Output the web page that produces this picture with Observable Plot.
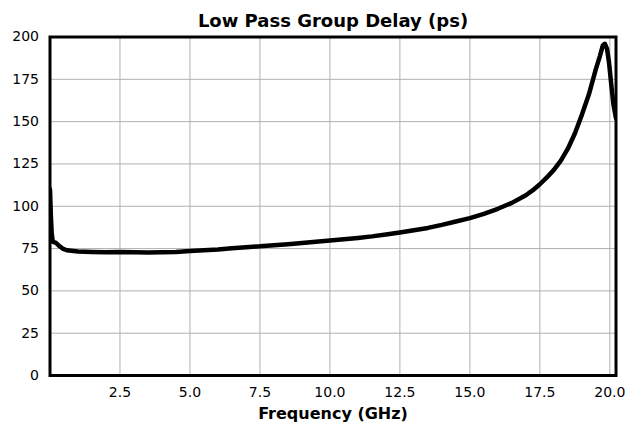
<!DOCTYPE html>
<html>
<head>
<meta charset="utf-8">
<script src="https://cdn.jsdelivr.net/npm/d3@7"></script>
<script src="https://cdn.jsdelivr.net/npm/@observablehq/plot@0.6"></script>
<style>
  html, body { margin: 0; padding: 0; background: #fff; }
  #chart svg { display: block; font-family: "DejaVu Sans", sans-serif; }
</style>
</head>
<body>
<div id="chart"></div>
<script>
const title = "Low Pass Group Delay (ps)";
const xLabel = "Frequency (GHz)";
const freqGHz = [0, 0.03, 0.06, 0.1, 0.2, 0.3, 0.45, 0.6, 1.0, 1.5, 2.0, 2.5, 3.0, 3.5, 4.0, 4.5, 5.0, 5.5, 6.0, 6.5, 7.0, 7.5, 8.0, 8.5, 9.0, 9.5, 10.0, 10.5, 11.0, 11.5, 12.0, 12.5, 13.0, 13.5, 14.0, 14.5, 15.0, 15.5, 16.0, 16.5, 17.0, 17.25, 17.5, 17.75, 18.0, 18.25, 18.5, 18.75, 19.0, 19.25, 19.5, 19.65, 19.75, 19.82, 19.9, 19.97, 20.05, 20.13, 20.22];
const delayPs = [110, 95, 84, 79, 78.5, 77, 75, 74, 73.3, 73, 72.8, 73, 72.8, 72.7, 72.8, 73, 73.5, 74, 74.5, 75.2, 75.8, 76.3, 77, 77.6, 78.3, 79, 79.7, 80.5, 81.3, 82.2, 83.3, 84.5, 85.8, 87.2, 89, 91, 93, 95.5, 98.5, 102, 106.5, 109.5, 113, 117, 121.5, 127, 134, 143, 154, 166, 181, 189, 195, 196, 193, 185, 172, 160, 152];
const xTicks = [2.5, 5.0, 7.5, 10.0, 12.5, 15.0, 17.5, 20.0];
const yTicks = [0, 25, 50, 75, 100, 125, 150, 175, 200];

const data = freqGHz.map((f, i) => ({f, d: delayPs[i]}));

const chart = Plot.plot({
  width: 625,
  height: 422,
  marginLeft: 49.5,
  marginRight: 9.5,
  marginTop: 36.5,
  marginBottom: 47,
  style: {fontSize: "14px", fontFamily: "DejaVu Sans, sans-serif", color: "#000", background: "#fff"},
  x: {domain: [0, 20.22], label: null},
  y: {domain: [0, 200], label: null},
  marks: [
    Plot.gridX(xTicks, {stroke: "#b0b0b0", strokeOpacity: 1, strokeWidth: 1}),
    Plot.gridY(yTicks.slice(1, -1), {stroke: "#b0b0b0", strokeOpacity: 1, strokeWidth: 1}),
    Plot.axisX({ticks: xTicks, tickFormat: d => d.toFixed(1), tickSize: 0, tickPadding: 12, label: null, fontSize: 14}),
    Plot.axisY({ticks: yTicks, tickSize: 0, tickPadding: 11, label: null, fontSize: 14}),
    Plot.line(data, {x: "f", y: "d", stroke: "#000", strokeWidth: 4.5, strokeLinejoin: "round", curve: "linear", clip: true}),
    Plot.frame({stroke: "#000", strokeWidth: 3}),
    Plot.text([title], {frameAnchor: "top", lineAnchor: "middle", dy: -16, fontSize: 18, fontWeight: "bold", fill: "#000"}),
    Plot.text([xLabel], {frameAnchor: "bottom", lineAnchor: "middle", dy: 38, fontSize: 16, fontWeight: "bold", fill: "#000"})
  ]
});
document.getElementById("chart").appendChild(chart);
</script>
</body>
</html>
